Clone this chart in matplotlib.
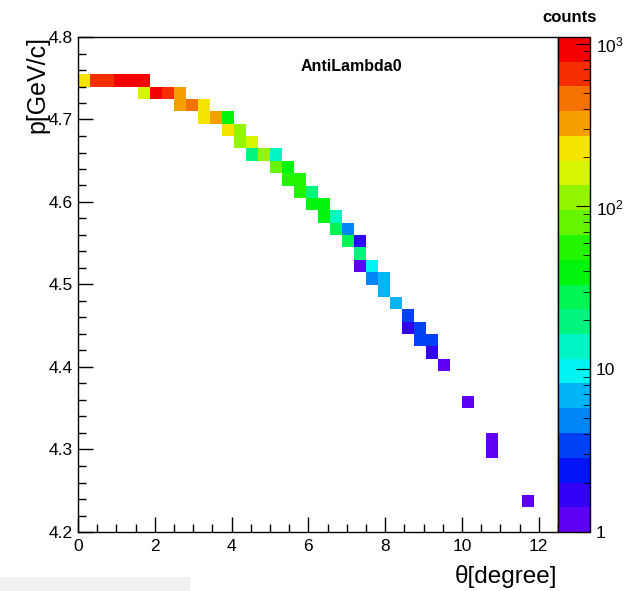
import colorsys
import numpy as np
import matplotlib
matplotlib.use("Agg")
import matplotlib.pyplot as plt
from matplotlib.colors import ListedColormap, LogNorm
from matplotlib.patches import Rectangle
from matplotlib.ticker import FixedLocator, FixedFormatter, LogLocator, MultipleLocator, NullFormatter

plt.rcParams["font.family"] = ["Liberation Sans", "DejaVu Sans"]
plt.rcParams["mathtext.default"] = "regular"

# histogram binning (ROOT TH2: 40 x 40 bins)
theta_edges = np.linspace(0, 12.5, 41)
p_edges = np.linspace(4.2, 4.8, 41)

# filled bins (bin centres + counts)
theta_deg = [0.16, 0.47, 0.78, 1.09, 1.41, 1.72,
             1.72, 2.03, 2.34, 2.66,
             2.66, 2.97, 3.28,
             3.28, 3.59, 3.91,
             3.91, 4.22,
             4.22, 4.53,
             4.53, 4.84, 5.16,
             5.16, 5.47,
             5.47, 5.78,
             5.78, 6.09,
             6.09, 6.41,
             6.41, 6.72,
             6.72, 7.03,
             7.03, 7.34,
             7.34,
             7.34, 7.66,
             7.66, 7.97,
             7.97,
             8.28,
             8.59,
             8.59, 8.91,
             8.91, 9.22,
             9.22,
             9.53,
             10.16, 10.78, 10.78, 11.72]
p_gev = [4.748, 4.748, 4.748, 4.748, 4.748, 4.748,
         4.733, 4.733, 4.733, 4.733,
         4.718, 4.718, 4.718,
         4.703, 4.703, 4.703,
         4.688, 4.688,
         4.673, 4.673,
         4.658, 4.658, 4.658,
         4.643, 4.643,
         4.628, 4.628,
         4.613, 4.613,
         4.598, 4.598,
         4.583, 4.583,
         4.568, 4.568,
         4.553, 4.553,
         4.538,
         4.523, 4.523,
         4.508, 4.508,
         4.493,
         4.478,
         4.463,
         4.448, 4.448,
         4.433, 4.433,
         4.418,
         4.403,
         4.358, 4.313, 4.298, 4.238]
counts = [230, 650, 680, 1000, 1050, 980,
          165, 900, 640, 330,
          320, 470, 230,
          220, 310, 38,
          210, 110,
          115, 160,
          20, 100, 14,
          85, 45,
          50, 55,
          55, 18,
          35, 42,
          40, 12,
          30, 5,
          28, 2,
          20,
          1, 10,
          5, 7,
          7,
          6,
          4,
          2, 3,
          3, 3,
          2,
          1,
          1, 1, 1, 1]

H, _, _ = np.histogram2d(theta_deg, p_gev, bins=[theta_edges, p_edges], weights=counts)
H = np.ma.masked_equal(H.T, 0)

# ROOT "pretty" palette, 20 contour levels
ncont = 20
pal = []
for c in range(ncont):
    k = int((c + 0.99) * 50 / ncont)
    hue = 280 - (k + 1) * 280 / 50
    pal.append(colorsys.hls_to_rgb(hue / 360.0, 0.48, 1.0))
cmap = ListedColormap(pal)
norm = LogNorm(vmin=1, vmax=1100)

fig = plt.figure(figsize=(6.26, 5.91), dpi=100)
ax = fig.add_axes([78 / 626, 59 / 591, 480 / 626, 495 / 591])
mesh = ax.pcolormesh(theta_edges, p_edges, H, cmap=cmap, norm=norm)

ax.set_xlim(0, 12.5)
ax.set_ylim(4.2, 4.8)
ax.xaxis.set_major_locator(MultipleLocator(2))
ax.xaxis.set_minor_locator(MultipleLocator(0.5))
ax.yaxis.set_major_locator(MultipleLocator(0.1))
ax.yaxis.set_minor_locator(MultipleLocator(0.02))
ax.yaxis.set_major_formatter(matplotlib.ticker.FormatStrFormatter("%.1f"))
ax.tick_params(which="both", direction="in", top=False, right=False, width=1, labelsize=12.5)
ax.tick_params(which="major", length=11)
ax.tick_params(which="minor", length=6)
ax.tick_params(axis="x", pad=5)
ax.tick_params(axis="y", pad=4)
for s in ax.spines.values():
    s.set_linewidth(1)

ax.text(0.57, 0.94, "AntiLambda0", transform=ax.transAxes, ha="center", va="center",
        fontsize=11.5, fontweight="bold")

fig.text(557 / 626, 1 - 576 / 591, "θ[degree]", ha="right", va="center", fontsize=17.5)
fig.text(37 / 626, 1 - 36 / 591, "p[GeV/c]", ha="center", va="top", rotation=90, fontsize=18)

# palette axis
cax = fig.add_axes([558 / 626, 59 / 591, 32 / 626, 495 / 591])
cb = fig.colorbar(mesh, cax=cax)
cb.outline.set_linewidth(1)
cax.yaxis.set_major_locator(FixedLocator([1, 10, 100, 1000]))
cax.yaxis.set_major_formatter(FixedFormatter(["1", "10", "$10^{2}$", "$10^{3}$"]))
cax.yaxis.set_minor_locator(LogLocator(base=10, subs=np.arange(2, 10)))
cax.yaxis.set_minor_formatter(NullFormatter())
cax.tick_params(which="both", direction="in", labelsize=12.5, pad=4)
cax.tick_params(which="major", length=10)
cax.tick_params(which="minor", length=5)
fig.text(570 / 626, 1 - 18 / 591, "counts", ha="center", va="center", fontsize=12, fontweight="bold")

# faint strip from the screen capture
fig.add_artist(Rectangle((0, 0), 190 / 626, 14 / 591, transform=fig.transFigure,
                         facecolor="#f1f1f1", edgecolor="none"))

fig.savefig("out.png", dpi=100)
